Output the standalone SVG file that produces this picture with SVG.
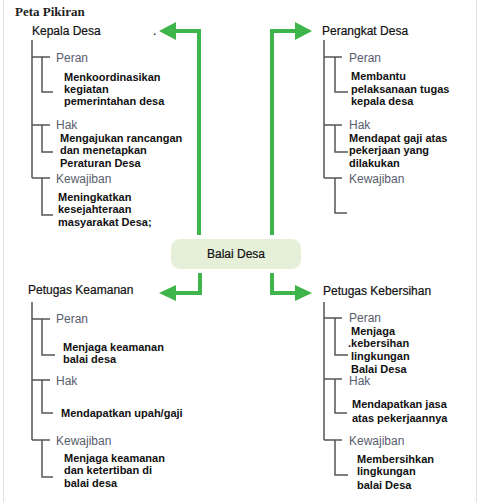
<svg xmlns="http://www.w3.org/2000/svg" width="479" height="502" viewBox="0 0 479 502">
<style>
.title{font-family:"Liberation Sans",Arial,sans-serif;font-family:"Liberation Serif",serif;font-weight:bold;font-size:13px;fill:#222}
.head{font-family:"Liberation Sans",Arial,sans-serif;font-size:12px;fill:#111;stroke:#111;stroke-width:0.2}
.lbl{font-family:"Liberation Sans",Arial,sans-serif;font-size:12px;fill:#585c6c}
.txt{font-family:"Liberation Sans",Arial,sans-serif;font-weight:bold;font-size:11px;fill:#111}
.tree{fill:none;stroke:#555;stroke-width:1.5}
.arrow{fill:none;stroke:#3db54a;stroke-width:4}
.ah{fill:#3db54a}
</style>
<rect x="0" y="0" width="479" height="502" fill="#fff"/>
<line x1="3.5" y1="0" x2="3.5" y2="502" stroke="#e2e2e2" stroke-width="1"/>
<line x1="476.5" y1="0" x2="476.5" y2="502" stroke="#e2e2e2" stroke-width="1"/>
<text class="title" x="15" y="16">Peta Pikiran</text>

<g id="connectors">
<polyline class="arrow" points="199,235 199,31 173,31"/>
<polygon class="ah" points="159,31 176,22 176,40"/>
<polyline class="arrow" points="272,235 272,31 298,31"/>
<polygon class="ah" points="312,31 295,22 295,40"/>
<polyline class="arrow" points="200,273 200,293 173,293"/>
<polygon class="ah" points="159,293 176,285 176,301"/>
<polyline class="arrow" points="272,273 272,293 298,293"/>
<polygon class="ah" points="312,293 295,285 295,301"/>
</g>

<g id="balai-desa">
<rect x="171" y="239" width="130" height="30" rx="9" fill="#e6f0d8"/>
<text class="head" x="236" y="258" text-anchor="middle">Balai Desa</text>
</g>

<g id="kepala-desa">
<text class="head" x="32" y="35">Kepala Desa</text>
<text class="head" x="153" y="35" font-size="8">.</text>
<path class="tree" d="M32,40 V178 M32,57 H50 M42,57 V92 H53 M32,125 H50 M42,125 V152 H53 M32,178 H50 M42,178 V215 H53"/>
<text class="lbl" x="56" y="62">Peran</text>
<text class="txt" x="64" y="81">Menkoordinasikan</text>
<text class="txt" x="64" y="93">kegiatan</text>
<text class="txt" x="64" y="105">pemerintahan desa</text>
<text class="lbl" x="56" y="129">Hak</text>
<text class="txt" x="60" y="141.5">Mengajukan rancangan</text>
<text class="txt" x="60" y="154">dan menetapkan</text>
<text class="txt" x="60" y="167">Peraturan Desa</text>
<text class="lbl" x="56" y="183">Kewajiban</text>
<text class="txt" x="58" y="201">Meningkatkan</text>
<text class="txt" x="58" y="213">kesejahteraan</text>
<text class="txt" x="58" y="226">masyarakat Desa;</text>
</g>

<g id="perangkat-desa">
<text class="head" x="322" y="35">Perangkat Desa</text>
<path class="tree" d="M324,40 V178 M324,57 H342 M335,57 V92 H348 M324,125 H342 M335,125 V152 H348 M324,178 H342 M335,178 V213 H347"/>
<text class="lbl" x="349" y="62">Peran</text>
<text class="txt" x="351" y="80">Membantu</text>
<text class="txt" x="351" y="93">pelaksanaan tugas</text>
<text class="txt" x="351" y="105">kepala desa</text>
<text class="lbl" x="349" y="129">Hak</text>
<text class="txt" x="349" y="141.5">Mendapat gaji atas</text>
<text class="txt" x="349" y="154">pekerjaan yang</text>
<text class="txt" x="349" y="167">dilakukan</text>
<text class="lbl" x="349" y="183">Kewajiban</text>
</g>

<g id="petugas-keamanan">
<text class="head" x="28" y="294">Petugas Keamanan</text>
<path class="tree" d="M32,302 V440 M32,319 H50 M42,319 V355 H55 M32,380 H50 M42,380 V413 H53 M32,440 H50 M42,440 V477 H53"/>
<text class="lbl" x="56" y="323">Peran</text>
<text class="txt" x="63" y="351">Menjaga keamanan</text>
<text class="txt" x="63" y="363">balai desa</text>
<text class="lbl" x="56" y="385">Hak</text>
<text class="txt" x="61" y="417">Mendapatkan upah/gaji</text>
<text class="lbl" x="56" y="445">Kewajiban</text>
<text class="txt" x="64" y="462">Menjaga keamanan</text>
<text class="txt" x="64" y="474">dan ketertiban di</text>
<text class="txt" x="64" y="487">balai desa</text>
</g>

<g id="petugas-kebersihan">
<text class="head" x="323" y="295">Petugas Kebersihan</text>
<path class="tree" d="M324,302 V440 M324,318 H342 M335,318 V355 H348 M324,379 H342 M335,379 V413 H347 M324,440 H342 M335,440 V475 H348"/>
<text class="lbl" x="349" y="322">Peran</text>
<text class="txt" x="351" y="334.5">Menjaga</text>
<text class="txt" x="348" y="347">.kebersihan</text>
<text class="txt" x="351" y="360">lingkungan</text>
<text class="txt" x="351" y="372.5">Balai Desa</text>
<text class="lbl" x="349" y="384.5">Hak</text>
<text class="txt" x="352" y="408">Mendapatkan jasa</text>
<text class="txt" x="352" y="422">atas pekerjaannya</text>
<text class="lbl" x="349" y="445">Kewajiban</text>
<text class="txt" x="357" y="463">Membersihkan</text>
<text class="txt" x="357" y="475">lingkungan</text>
<text class="txt" x="357" y="489">balai Desa</text>
</g>
</svg>
